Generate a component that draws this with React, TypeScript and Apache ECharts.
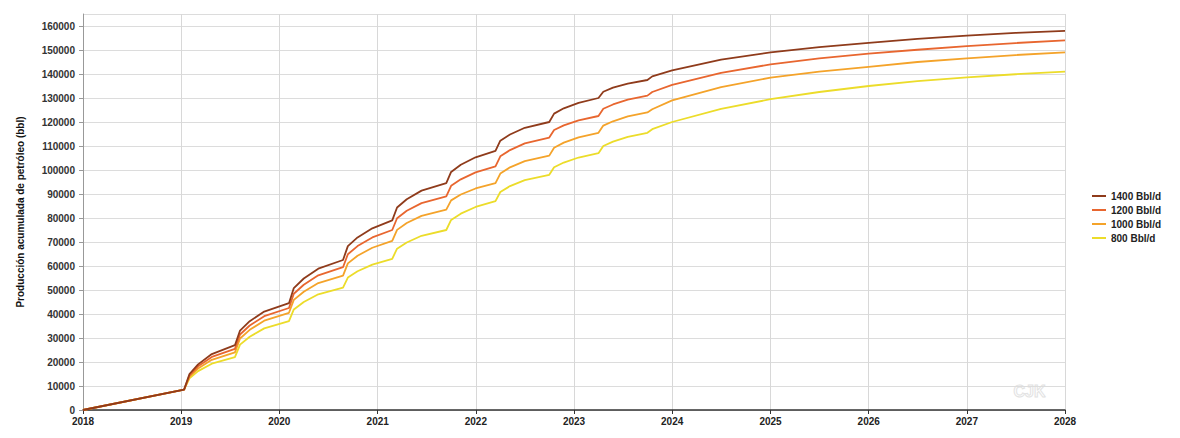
import React, { useEffect, useRef } from "react";
import * as echarts from "echarts";

const seriesNames = ["1400 Bbl/d", "1200 Bbl/d", "1000 Bbl/d", "800 Bbl/d"];
const seriesColors = ["#8f3b1b", "#e8662f", "#f4a32a", "#ecdc2a"];

const dates = [
  "2018-01-01",
  "2019-01-12", "2019-02-01", "2019-03-05", "2019-04-25",
  "2019-07-20", "2019-08-08", "2019-09-13", "2019-11-06",
  "2020-02-06", "2020-02-24", "2020-04-01", "2020-05-25",
  "2020-08-25", "2020-09-12", "2020-10-18", "2020-12-12",
  "2021-02-24", "2021-03-14", "2021-04-19", "2021-06-13",
  "2021-09-13", "2021-10-01", "2021-11-06", "2021-12-31",
  "2022-03-15", "2022-04-02", "2022-05-08", "2022-07-02",
  "2022-10-01", "2022-10-19", "2022-11-24", "2023-01-18",
  "2023-04-02", "2023-04-20", "2023-05-26", "2023-07-20",
  "2023-10-01", "2023-10-19", "2024-01-01", "2024-07-01",
  "2025-01-01", "2025-07-01", "2026-01-01", "2026-07-01",
  "2027-01-01", "2027-07-01", "2028-01-01",
];

const v1400 = [
  0,
  8500, 15000, 19000, 23300,
  27000, 33100, 37000, 41000,
  44500, 50800, 54800, 58900,
  62500, 68300, 71900, 75700,
  79000, 84400, 87800, 91400,
  94500, 99200, 102200, 105300,
  108000, 112200, 114800, 117600,
  120000, 123500, 125700, 128000,
  130000, 132600, 134300, 136000,
  137500, 139000, 141500, 146000,
  149000, 151200, 153000, 154600,
  156000, 157100, 158000,
];

const v1200 = [
  0,
  8500, 14450, 18200, 22100,
  25500, 31450, 35200, 39100,
  42500, 48450, 52200, 56100,
  59500, 64900, 68300, 71900,
  75000, 79900, 83000, 86200,
  89000, 93400, 96100, 99000,
  101500, 105700, 108300, 111100,
  113500, 116650, 118600, 120700,
  122500, 125500, 127300, 129300,
  131000, 132500, 135500, 140500,
  144000, 146500, 148500, 150100,
  151600, 152900, 154000,
];

const v1000 = [
  0,
  8500, 13900, 17300, 20900,
  24000, 29800, 33400, 37200,
  40500, 45900, 49300, 52900,
  56000, 61100, 64300, 67600,
  70500, 75050, 77900, 80900,
  83500, 87350, 89800, 92300,
  94500, 98500, 101100, 103700,
  106000, 109300, 111400, 113600,
  115500, 118500, 120300, 122300,
  124000, 125300, 129000, 134500,
  138500, 141000, 143000, 145000,
  146500, 147900, 149000,
];

const v800 = [
  0,
  8500, 13200, 16200, 19300,
  22000, 27250, 30550, 34000,
  37000, 41900, 45000, 48200,
  51000, 55200, 57800, 60600,
  63000, 67200, 69800, 72600,
  75000, 79200, 81800, 84600,
  87000, 90850, 93300, 95800,
  98000, 101150, 103100, 105200,
  107000, 110000, 111800, 113800,
  115500, 117000, 120000, 125500,
  129500, 132500, 135000, 137000,
  138600, 139900, 141000,
];

const seriesValues = [v1400, v1200, v1000, v800];
const yAxisName = "Producción acumulada de petróleo (bbl)";

export default function App() {
  const ref = useRef<HTMLDivElement>(null);
  useEffect(() => {
    if (!ref.current) return;
    const chart = echarts.init(ref.current, null, { renderer: "svg" });
    const font = "'Liberation Sans', Arial, sans-serif";
    chart.setOption({
      animation: false,
      backgroundColor: "#ffffff",
      textStyle: { fontFamily: font },
      grid: { left: 83, right: 115, top: 14, bottom: 28, containLabel: false },
      legend: {
        orient: "vertical",
        left: 1087,
        top: 186,
        itemWidth: 14,
        itemHeight: 2,
        itemGap: 4,
        icon: "rect",
        data: seriesNames,
        textStyle: { fontFamily: font, fontSize: 10, fontWeight: "bold", color: "#222" },
      },
      xAxis: {
        type: "time",
        min: "2018-01-01",
        max: "2028-01-01",
        splitNumber: 10,
        minInterval: 365 * 24 * 3600 * 1000,
        maxInterval: 366 * 24 * 3600 * 1000,
        axisLine: { lineStyle: { color: "#333", width: 1.5 } },
        axisTick: { show: true, length: 4, lineStyle: { color: "#333" } },
        axisLabel: {
          formatter: "{yyyy}",
          color: "#222",
          fontSize: 10,
          fontWeight: "bold",
          fontFamily: font,
          margin: 6,
          showMinLabel: true,
          showMaxLabel: true,
          hideOverlap: false,
        },
        splitLine: { show: true, lineStyle: { color: "#d8d8d8", width: 1 } },
      },
      yAxis: {
        type: "value",
        min: 0,
        max: 165000,
        interval: 10000,
        name: yAxisName,
        nameLocation: "middle",
        nameGap: 58,
        nameRotate: 90,
        nameTextStyle: { fontFamily: font, fontSize: 10, fontWeight: "bold", color: "#111" },
        axisLine: { show: true, lineStyle: { color: "#999", width: 1 } },
        axisTick: { show: true, length: 4, lineStyle: { color: "#999" } },
        axisLabel: {
          color: "#333",
          fontSize: 10,
          fontWeight: "bold",
          fontFamily: font,
          margin: 8,
          showMaxLabel: false,
          formatter: (v: number) => String(v),
        },
        splitLine: { show: true, lineStyle: { color: "#dcdcdc", width: 1 } },
      },
      series: seriesNames.map((name, i) => ({
        name,
        type: "line",
        showSymbol: false,
        symbol: "none",
        smooth: false,
        color: seriesColors[i],
        lineStyle: { width: 1.8, color: seriesColors[i] },
        data: dates.map((d, j) => [d, seriesValues[i][j]]),
        z: 10 - i,
      })),
      graphic: [
        {
          type: "text",
          left: 1013,
          top: 383,
          style: {
            text: "CJK",
            fontSize: 16,
            fontWeight: "bold",
            fontFamily: font,
            fill: "rgba(0,0,0,0)",
            stroke: "#e2e2e2",
            lineWidth: 1,
          },
        },
      ],
    });
    return () => chart.dispose();
  }, []);
  return (
    <div
      ref={ref}
      style={{ position: "fixed", left: 0, top: 0, width: 1180, height: 438 }}
    />
  );
}
